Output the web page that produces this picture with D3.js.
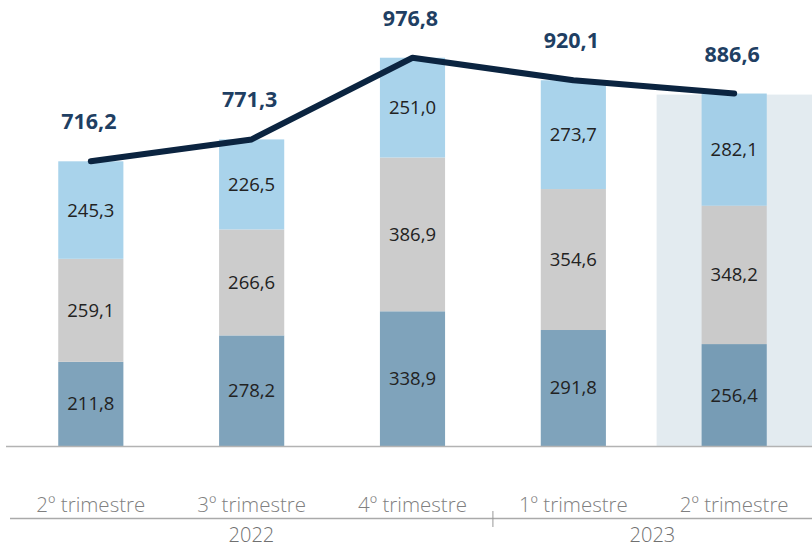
<!DOCTYPE html>
<html>
<head>
<meta charset="utf-8">
<script src="https://cdn.jsdelivr.net/npm/d3@7"></script>
<style>
  body { margin: 0; background: #fff; }
  svg { font-family: "Open Sans", sans-serif; }
</style>
</head>
<body>
<script>
let quarters = ['2º trimestre', '3º trimestre', '4º trimestre', '1º trimestre', '2º trimestre'];
let years = ['2022', '2022', '2022', '2023', '2023'];
let bottomVals = [211.8, 278.2, 338.9, 291.8, 256.4];
let middleVals = [259.1, 266.6, 386.9, 354.6, 348.2];
let topVals = [245.3, 226.5, 251.0, 273.7, 282.1];
let totals = [716.2, 771.3, 976.8, 920.1, 886.6];

let width = 812, height = 547;
let colors = ['#7fa3bb', '#cccccc', '#a9d3eb'];
let colorsHi = ['#779cb5', '#cacaca', '#a4cfe8'];

let svg = d3.select('body').append('svg')
  .attr('width', width)
  .attr('height', height);

let x = d3.scaleBand()
  .domain(d3.range(quarters.length))
  .range([10, 815])
  .paddingInner(0.595)
  .paddingOuter(0.3);

let y = d3.scaleLinear()
  .domain([0, 1000])
  .range([446, 48.5]);

// highlight for last quarter
let last = quarters.length - 1;
svg.append('rect')
  .attr('x', x(last) - 45)
  .attr('y', y(totals[last]) + 1)
  .attr('width', width - (x(last) - 45))
  .attr('height', y(0) - y(totals[last]) - 1)
  .attr('fill', '#e3ebf0');

let series = [bottomVals, middleVals, topVals];
let stacked = quarters.map(function(q, i) {
  let y0 = 0;
  return series.map(function(s, k) {
    let seg = { i: i, k: k, v: s[i], y0: y0, y1: y0 + s[i] };
    y0 += s[i];
    return seg;
  });
});

let segs = stacked.flat();

svg.selectAll('rect.seg')
  .data(segs)
  .join('rect')
  .attr('class', 'seg')
  .attr('x', function(d) { return x(d.i); })
  .attr('width', x.bandwidth())
  .attr('y', function(d) { return y(d.y1); })
  .attr('height', function(d) { return y(d.y0) - y(d.y1); })
  .attr('fill', function(d) { return d.i === last ? colorsHi[d.k] : colors[d.k]; });

svg.selectAll('text.seg')
  .data(segs)
  .join('text')
  .attr('class', 'seg')
  .attr('x', function(d) { return x(d.i) + x.bandwidth() / 2; })
  .attr('y', function(d) { return (y(d.y0) + y(d.y1)) / 2; })
  .attr('dy', '0.35em')
  .attr('text-anchor', 'middle')
  .attr('font-size', 18.5)
  .attr('fill', '#222')
  .text(function(d) { return d3.format('.1f')(d.v).replace('.', ','); });

// baseline
svg.append('line')
  .attr('x1', 6).attr('x2', width)
  .attr('y1', y(0) + 0.5).attr('y2', y(0) + 0.5)
  .attr('stroke', '#b3b3b3')
  .attr('stroke-width', 1.5);

// total line
let line = d3.line()
  .x(function(d, i) { return x(i) + x.bandwidth() / 2; })
  .y(function(d) { return y(d); });

svg.append('path')
  .datum(totals)
  .attr('d', line)
  .attr('fill', 'none')
  .attr('stroke', '#0b2440')
  .attr('stroke-width', 6)
  .attr('stroke-linecap', 'round')
  .attr('stroke-linejoin', 'round');

svg.selectAll('text.total')
  .data(totals)
  .join('text')
  .attr('class', 'total')
  .attr('x', function(d, i) { return x(i) + x.bandwidth() / 2 - 2; })
  .attr('y', function(d) { return y(d) - 32; })
  .attr('text-anchor', 'middle')
  .attr('font-size', 21.5)
  .attr('font-weight', 'bold')
  .attr('fill', '#1f3f63')
  .text(function(d) { return d3.format('.1f')(d).replace('.', ','); });

// quarter labels
svg.selectAll('text.q')
  .data(quarters)
  .join('text')
  .attr('class', 'q')
  .attr('x', function(d, i) { return x(i) + x.bandwidth() / 2; })
  .attr('y', 505)
  .attr('dy', '0.35em')
  .attr('text-anchor', 'middle')
  .attr('font-size', 20.5)
  .attr('font-weight', 300)
  .attr('fill', '#808080')
  .text(function(d) { return d; });

// year separator
svg.append('line')
  .attr('x1', 10).attr('x2', width)
  .attr('y1', 518.5).attr('y2', 518.5)
  .attr('stroke', '#aaa')
  .attr('stroke-width', 1.5);

let splitX = (x(2) + x.bandwidth() + x(3)) / 2;
svg.append('line')
  .attr('x1', splitX).attr('x2', splitX)
  .attr('y1', 511).attr('y2', 527)
  .attr('stroke', '#999')
  .attr('stroke-width', 1);

let yearGroups = d3.groups(d3.range(years.length), function(i) { return years[i]; });
svg.selectAll('text.year')
  .data(yearGroups)
  .join('text')
  .attr('class', 'year')
  .attr('x', function(g, gi) {
    return gi === 0 ? (10 + splitX) / 2 : (splitX + width) / 2;
  })
  .attr('y', 534.5)
  .attr('dy', '0.35em')
  .attr('text-anchor', 'middle')
  .attr('font-size', 20)
  .attr('font-weight', 300)
  .attr('fill', '#707070')
  .text(function(g) { return g[0]; });
</script>
</body>
</html>
